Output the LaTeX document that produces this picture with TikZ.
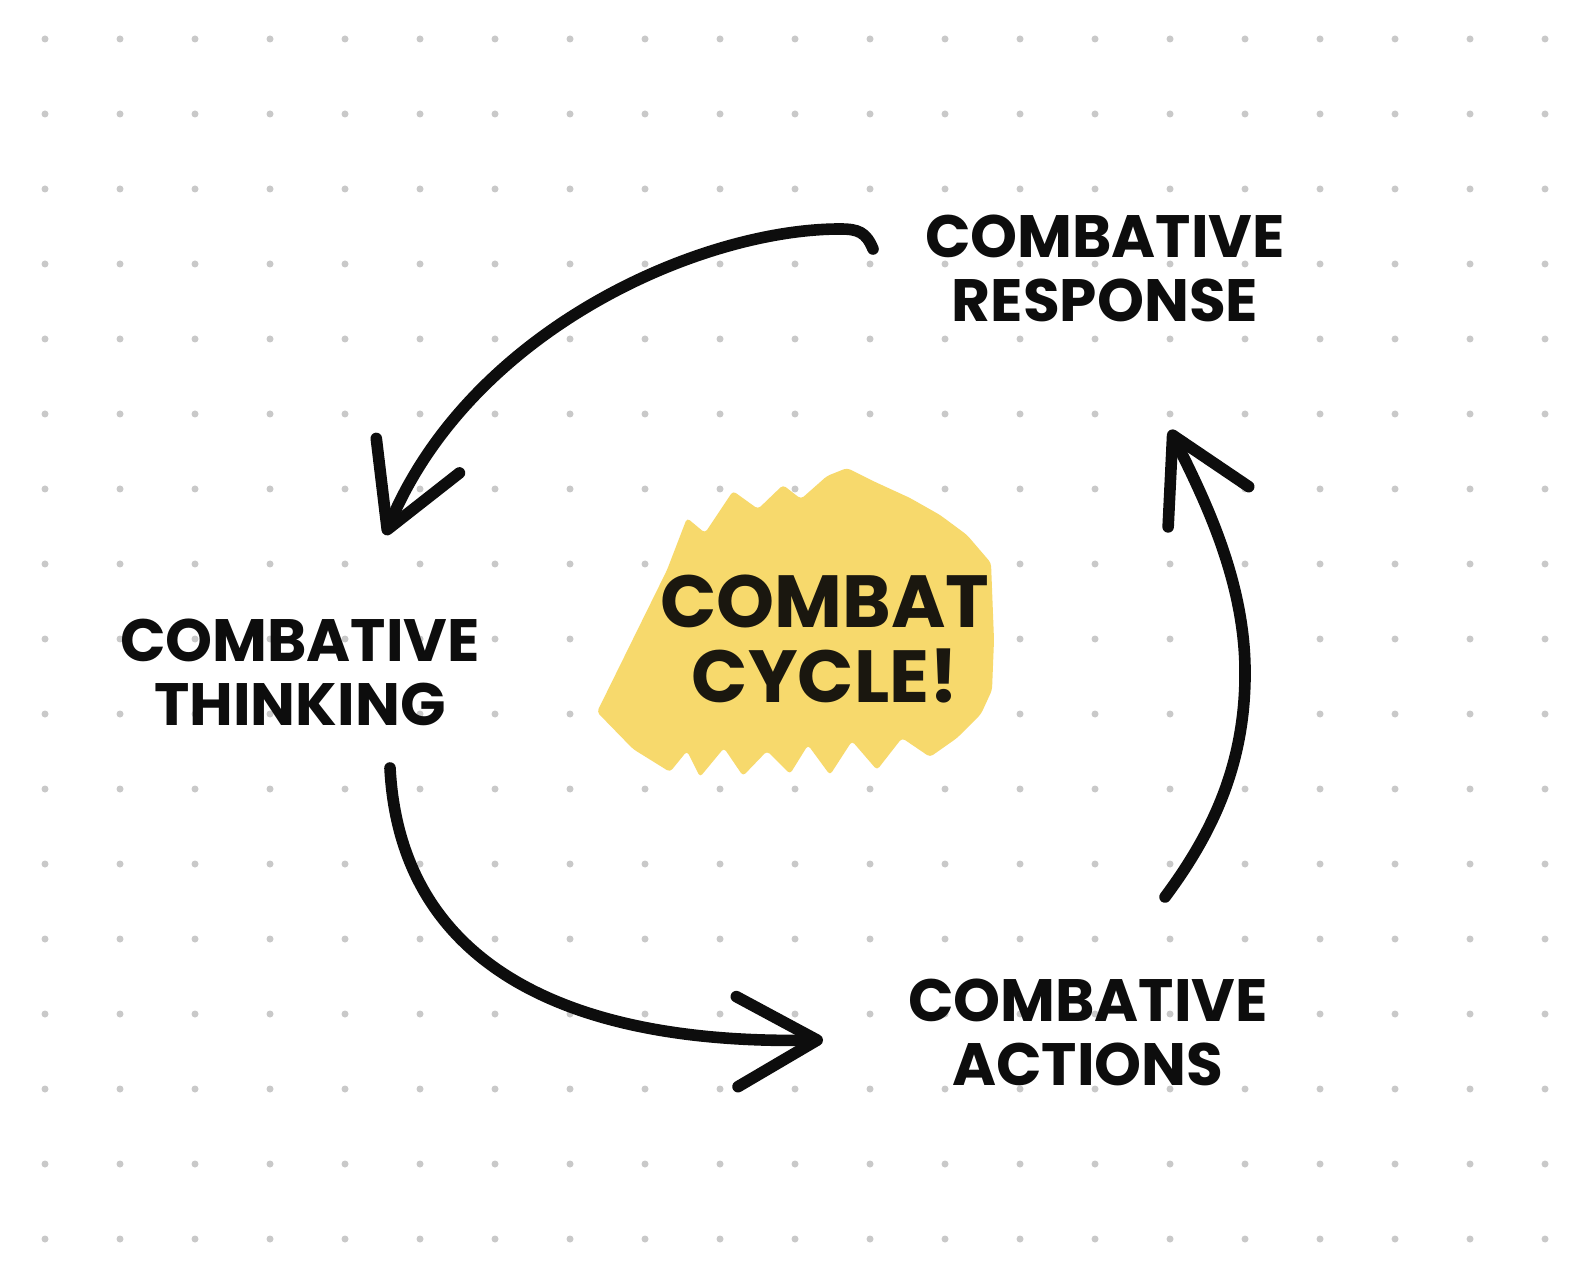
\documentclass[tikz,border=0pt]{standalone}
\usepackage{fontspec}
\setmainfont{Poppins}
\usetikzlibrary{positioning, arrows.meta}
\definecolor{sketch-ink}{HTML}{0D0D0D}
\definecolor{sketch-text}{HTML}{1A170F}
\definecolor{sketch-dot}{HTML}{C9C9C9}
\definecolor{sketch-yellow}{HTML}{F7D96C}

\begin{document}
\begin{tikzpicture}[
    x=0.01cm, y=-0.01cm,
    lbl/.style={font=\bfseries\fontsize{17}{18.2}\selectfont, text=sketch-ink,
                align=center, inner sep=0pt},
    big/.style={font=\bfseries\fontsize{21}{21.6}\selectfont, text=sketch-text,
                align=center, inner sep=0pt},
    ink/.style={draw=sketch-ink, line width=3.3pt, line cap=round, line join=round},
    hand/.style={-{Straight Barb[length=8mm, width=9mm, round]}},
]
    % Paper
    \fill[white] (0,0) rectangle (1589,1286);
    \useasboundingbox (0,0) rectangle (1589,1286);
    \foreach \i in {0,...,20}
        \foreach \j in {0,...,16}
            \fill[sketch-dot] (45+75*\i, 39+75*\j) circle[radius=3.5];

    % Highlight
    \fill[sketch-yellow, rounded corners=1]
        (597,712) -- (667,570) -- (687,518) -- (705,533) -- (733,491) -- (758,509)
        -- (783,485) -- (801,499) -- (827,476) -- (847,468) -- (873,481) -- (910,498)
        -- (940,515) -- (967,535) -- (991,563) -- (994,640) -- (992,690) -- (981,714)
        -- (957,738) -- (930,757) -- (902,738) -- (877,770) -- (852,741) -- (830,775)
        -- (808,745) -- (790,774) -- (767,751) -- (743,776) -- (724,748) -- (700,777)
        -- (687,751) -- (670,772) -- (633,749) -- cycle;

    % Labels
    \node[lbl] (response) at (1105,268) {COMBATIVE\\RESPONSE};
    \node[lbl] (thinking) at (300,672) {COMBATIVE\\THINKING};
    \node[lbl] (actions) at (1088,1032) {COMBATIVE\\ACTIONS};
    \node[big] (cycle) at (825,639) {COMBAT\\CYCLE!};

    % Arrow ends
    \coordinate (resp-out) at (873,249);
    \coordinate (think-in) at (385,535);
    \coordinate (think-out) at (390,768);
    \coordinate (act-in) at (823,1040);
    \coordinate (act-out) at (1165,897);
    \coordinate (resp-in) at (1170,430);

    % Arrows
    \draw[ink, hand] (resp-out) .. controls (866,232) and (858,229) .. (840,229)
        .. controls (700,229) and (470,330) .. (think-in);
    \draw[ink, hand] (think-out) .. controls (400,960) and (560,1045) .. (act-in);
    \draw[ink, hand] (act-out) .. controls (1215,830) and (1246,760) .. (1245,669)
        .. controls (1244,580) and (1205,500) .. (resp-in);

\end{tikzpicture}
\end{document}
